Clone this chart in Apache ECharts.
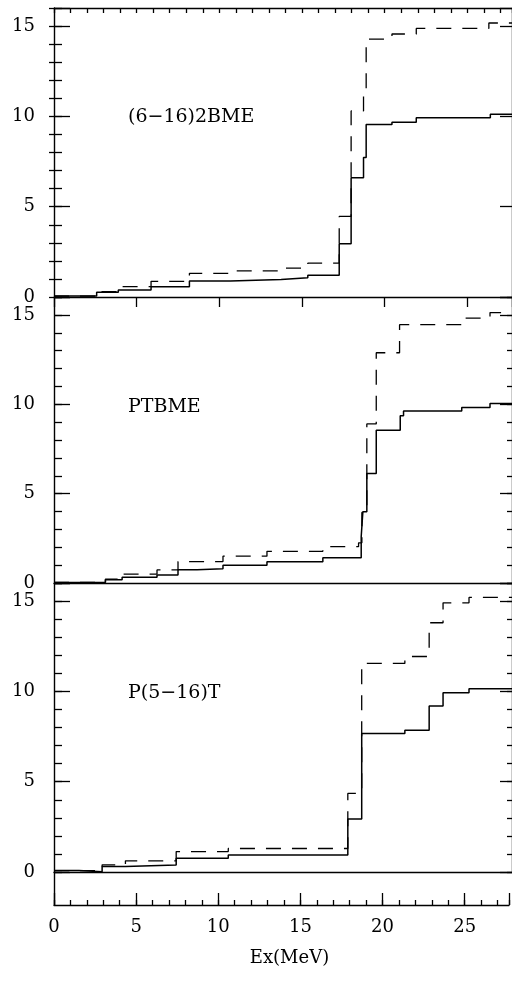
<!DOCTYPE html>
<html>
<head>
<meta charset="utf-8">
<script src="https://cdn.jsdelivr.net/npm/echarts@6/dist/echarts.min.js"></script>
<style>
  html, body { margin: 0; padding: 0; background: #fff; }
  #chart { width: 512px; height: 986px; }
</style>
</head>
<body>
<div id="chart"></div>
<script>
// Cumulative strength versus excitation energy Ex (MeV), three interactions.
// Each curve is a step function: value y[i] holds from x[i] up to x[i+1].
const xMax = 27.7;
const panelNames = ['(6\u221216)2BME', 'PTBME', 'P(5\u221216)T'];
const yTickLabels = [0, 5, 10, 15];
const xTickLabels = [0, 5, 10, 15, 20, 25];

// (6-16)2BME
const bmeSolidX  = [0, 2.58, 3.89, 5.87, 8.19, 10.67, 13.74, 15.35, 17.25, 17.97, 18.72, 18.88, 20.44, 21.91, 26.39];
const bmeSolidY  = [0.05, 0.26, 0.39, 0.57, 0.88, 0.97, 1.07, 1.2, 2.95, 6.6, 7.72, 9.55, 9.68, 9.93, 10.12];
const bmeDashX   = [0, 2.58, 3.89, 5.87, 8.19, 10.67, 13.74, 15.35, 17.25, 17.97, 18.72, 18.88, 20.44, 21.91, 26.3];
const bmeDashY   = [0.05, 0.3, 0.57, 0.87, 1.31, 1.45, 1.6, 1.87, 4.46, 10.3, 11.3, 14.28, 14.56, 14.87, 15.17];

// PTBME
const ptSolidX   = [0, 3.11, 4.12, 6.23, 7.5, 8.65, 10.22, 12.88, 16.26, 18.58, 18.68, 18.92, 19.49, 20.94, 21.14, 24.66, 26.37];
const ptSolidY   = [0.03, 0.18, 0.32, 0.45, 0.74, 0.8, 1.0, 1.19, 1.41, 2.6, 3.98, 6.13, 8.55, 9.35, 9.62, 9.82, 10.04];
const ptDashX    = [0, 3.11, 4.12, 6.23, 7.5, 10.22, 12.88, 16.26, 18.42, 18.62, 18.92, 19.49, 20.9, 24.66, 26.37];
const ptDashY    = [0.03, 0.22, 0.5, 0.73, 1.2, 1.5, 1.77, 2.03, 2.25, 3.95, 8.9, 12.88, 14.45, 14.82, 15.13];

// P(5-16)T
const p516SolidX = [0, 1.51, 2.91, 4.32, 7.39, 10.54, 17.77, 18.61, 21.22, 22.69, 23.53, 25.1];
const p516SolidY = [0.08, 0.02, 0.3, 0.39, 0.76, 0.94, 2.93, 7.67, 7.85, 9.19, 9.93, 10.15];
const p516DashX  = [0, 2.91, 4.32, 7.39, 10.54, 17.77, 18.61, 21.22, 22.69, 23.53, 25.1];
const p516DashY  = [0.08, 0.4, 0.62, 1.13, 1.3, 4.35, 11.55, 11.93, 13.8, 14.9, 15.2];

const panels = [
  { solid: [bmeSolidX, bmeSolidY],   dash: [bmeDashX, bmeDashY] },
  { solid: [ptSolidX, ptSolidY],     dash: [ptDashX, ptDashY] },
  { solid: [p516SolidX, p516SolidY], dash: [p516DashX, p516DashY] }
];

const FONT = 'DejaVu Serif';
const INK = '#000';
const line = { show: true, onZero: false, lineStyle: { color: INK, width: 1.4 } };
const noLine = { show: false };

const grids = [
  { left: 54, right: 0, top: 8,   height: 289 },
  { left: 54, right: 0, top: 297, height: 286 },
  { left: 54, right: 0, top: 583, height: 289 },
  { left: 54, right: 0, top: 872, height: 33 }
];

function xAxisOf(gridIndex, extra) {
  return Object.assign({
    type: 'value', gridIndex, min: 0, max: xMax, position: 'bottom',
    axisLine: line, axisTick: { show: false }, axisLabel: { show: false },
    splitLine: { show: false }
  }, extra);
}

const tickStyle = { color: INK, width: 1.3 };

const xAxes = [
  xAxisOf(0), xAxisOf(1), xAxisOf(2),
  // top frame of the first panel
  xAxisOf(0, { position: 'top', interval: 1, axisTick: { show: true, inside: true, length: 5, lineStyle: tickStyle } }),
  xAxisOf(0, { position: 'top', interval: 5, axisLine: noLine, axisTick: { show: true, inside: true, length: 10, lineStyle: tickStyle } }),
  // energy axis under the last panel
  xAxisOf(3, { interval: 1, axisTick: { show: true, inside: true, length: 5, lineStyle: tickStyle } }),
  xAxisOf(3, {
    interval: 5, axisLine: noLine,
    axisTick: { show: true, inside: true, length: 12, lineStyle: tickStyle },
    axisLabel: {
      show: true, margin: 13, color: INK, fontFamily: FONT, fontSize: 18,
      formatter: v => (xTickLabels.includes(v) ? String(v) : '')
    },
    name: 'Ex(MeV)', nameLocation: 'middle', nameGap: 44,
    nameTextStyle: { color: INK, fontFamily: FONT, fontSize: 18, padding: [0, 0, 0, 16] }
  })
];

function yAxisOf(gridIndex, extra) {
  return Object.assign({
    type: 'value', gridIndex, min: 0, max: 16, position: 'left',
    axisLine: line, axisTick: { show: false }, axisLabel: { show: false },
    splitLine: { show: false }
  }, extra);
}

const yAxes = [];
for (let g = 0; g < 3; g++) {
  yAxes.push(yAxisOf(g, {
    interval: 5,
    axisTick: { show: true, inside: true, length: 16, lineStyle: tickStyle },
    axisLabel: {
      show: true, margin: 19, color: INK, fontFamily: FONT, fontSize: 18,
      formatter: v => (yTickLabels.includes(v) ? String(v) : '')
    }
  }));
  yAxes.push(yAxisOf(g, { interval: 1, axisLine: noLine,
    axisTick: { show: true, inside: true, length: 8, lineStyle: tickStyle } }));
  yAxes.push(yAxisOf(g, { position: 'right', interval: 5,
    axisTick: { show: true, inside: true, length: 12, lineStyle: tickStyle } }));
  yAxes.push(yAxisOf(g, { position: 'right', interval: 1, axisLine: noLine,
    axisTick: { show: true, inside: true, length: 5, lineStyle: tickStyle } }));
}
// left frame below the zero line of the last panel
yAxes.push(yAxisOf(3, { min: 0, max: 1 }));

function stepSeries(pair, panel, dashed) {
  const [xs, ys] = pair;
  const pts = xs.map((x, i) => [x, ys[i]]);
  pts.push([xMax, ys[ys.length - 1]]);
  return {
    type: 'line', step: 'end', xAxisIndex: panel, yAxisIndex: panel * 4,
    data: pts, symbol: 'none', silent: true, clip: true,
    lineStyle: { color: INK, width: dashed ? 1.3 : 1.5, type: dashed ? [15, 11] : 'solid' }
  };
}

const series = [];
panels.forEach((p, i) => {
  series.push(stepSeries(p.solid, i, false));
  series.push(stepSeries(p.dash, i, true));
});

const nameY = [117, 407, 693];
const graphic = panelNames.map((t, i) => ({
  type: 'text', x: 128, y: nameY[i], silent: true,
  style: { text: t, fill: INK, font: '19px "' + FONT + '"', verticalAlign: 'middle', textVerticalAlign: 'middle' }
}));

const chart = echarts.init(document.getElementById('chart'), null, { renderer: 'canvas' });
chart.setOption({
  animation: false,
  backgroundColor: '#fff',
  grid: grids,
  xAxis: xAxes,
  yAxis: yAxes,
  series,
  graphic
});
</script>
</body>
</html>
